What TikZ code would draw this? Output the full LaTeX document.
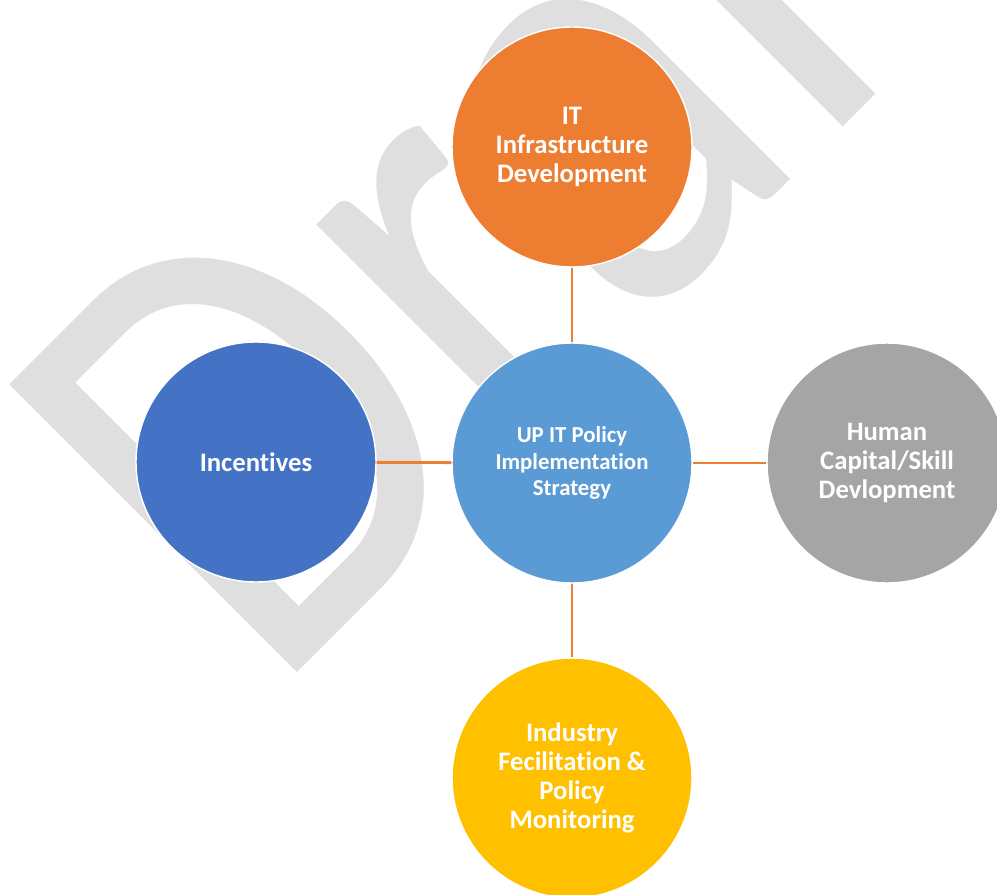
\documentclass[tikz,border=0pt]{standalone}
\usepackage{fontspec}
\setmainfont{Carlito}[Ligatures=NoCommon]
\newfontfamily\draftfont{Carlito}[Ligatures=NoCommon,FakeStretch=0.85]
\definecolor{itorange}{HTML}{ED7D31}
\definecolor{policyblue}{HTML}{5B9BD5}
\definecolor{incblue}{HTML}{4472C4}
\definecolor{skillgray}{HTML}{A5A5A5}
\definecolor{monitorgold}{HTML}{FFC000}
\definecolor{draftgray}{HTML}{DFDFDF}
\begin{document}
\begin{tikzpicture}[x=0.02cm,y=-0.02cm]

\tikzstyle{bubble} = [circle,draw=white,line width=0.8pt,minimum size=4.8cm,inner sep=0,align=center,text=white,font=\fontsize{15.2}{16.4}\selectfont\bfseries]
\tikzstyle{link} = [draw=itorange,line width=1.6pt]

\useasboundingbox (0,0) rectangle (997,895);

% watermark
\node [rotate=45,anchor=base west,inner sep=0,text=draftgray,font=\draftfont\fontsize{361}{361}\selectfont] (draft) at (271.5,698.5) {Draft};

\node [bubble,fill=policyblue,font=\fontsize{13}{15.1}\selectfont\bfseries] (core) at (572,463) {UP IT Policy\\Implementation\\Strategy};

\node [bubble,fill=itorange] (infra) at (572,147) {IT\\Infrastructure\\Development};
\node [bubble,fill=incblue] (incent) at (256,462) {Incentives};
\node [bubble,fill=skillgray] (skill) at (887,463) {Human\\Capital/Skill\\Devlopment};
\node [bubble,fill=monitorgold] (monitor) at (572,778) {Industry\\Fecilitation \&\\Policy\\Monitoring};

\draw [link] (core) -- (infra);
\draw [link] (core) -- (incent);
\draw [link] (core) -- (skill);
\draw [link] (core) -- (monitor);
\end{tikzpicture}
\end{document}
